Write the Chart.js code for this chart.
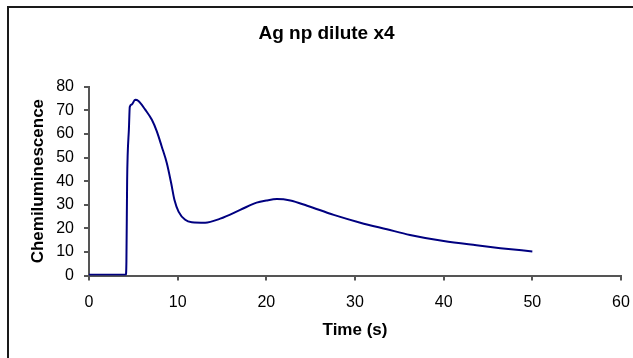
<!DOCTYPE html>
<html>
<head>
<meta charset="utf-8">
<script src="https://cdn.jsdelivr.net/npm/chart.js@4.4.1/dist/chart.umd.min.js"></script>
<style>
  html, body { margin: 0; padding: 0; background: #fff; overflow: hidden; }
  #wrap { position: relative; width: 633px; height: 358px; overflow: hidden; }
  #frame { position: absolute; left: 7px; top: 6px; width: 700px; height: 400px;
           border-top: 2px solid #1a1a1a; border-left: 2px solid #1a1a1a; }
  canvas { position: absolute; left: 0; top: 0; }
</style>
</head>
<body>
<div id="wrap">
  <canvas id="chart" width="633" height="358"></canvas>
  <div id="frame"></div>
</div>
<script>
// time (s) and chemiluminescence
const timeS = [0, 4.15, 4.22, 4.3, 4.36, 4.5, 4.6, 4.83, 5.2, 5.58, 6.34, 7.09, 7.65, 8.2, 8.78,
  9.27, 9.64, 10.1, 10.85, 11.6, 13.1, 14.8, 17.05, 18.9, 20, 21.2, 22.7, 24.6, 27.6,
  30.6, 33.6, 36.2, 40, 43.7, 46.4, 50];
const chemi = [0.3, 0.3, 6, 40, 51, 62, 71.5, 72.5, 74.5, 74, 70.3, 66, 61.1, 54.7, 47.6,
  39.1, 32, 27.1, 23.6, 22.6, 22.4, 24.1, 27.8, 30.9, 31.8, 32.4, 31.8, 29.6, 25.7,
  22.4, 19.6, 17.2, 14.6, 12.8, 11.6, 10.2];

const xTicks = [0, 10, 20, 30, 40, 50, 60];
const yTicks = [0, 10, 20, 30, 40, 50, 60, 70, 80];

const FONT = '"Liberation Sans", Arial, sans-serif';
const axisGrey = '#555555';

new Chart(document.getElementById('chart').getContext('2d'), {
  type: 'scatter',
  data: {
    datasets: [{
      label: 'Ag np dilute x4',
      data: timeS.map((t, i) => ({ x: t, y: chemi[i] })),
      showLine: true,
      borderColor: '#000080',
      borderWidth: 2,
      pointRadius: 0,
      cubicInterpolationMode: 'monotone',
      fill: false
    }]
  },
  options: {
    responsive: false,
    animation: false,
    layout: { padding: { left: 32, right: 12, top: 0, bottom: 0 } },
    plugins: {
      legend: { display: false },
      tooltip: { enabled: false },
      title: {
        display: true,
        text: 'Ag np dilute x4',
        color: '#000',
        font: { family: FONT, size: 19, weight: 'bold' },
        padding: { top: 22, bottom: 42 }
      }
    },
    scales: {
      x: {
        type: 'linear',
        min: 0, max: 60,
        afterBuildTicks: axis => { axis.ticks = xTicks.map(v => ({ value: v })); },
        afterFit: axis => { axis.height = 82.5; axis.paddingRight = 0; axis.paddingLeft = 0; },
        ticks: { color: '#000', font: { family: FONT, size: 16 }, padding: 12 },
        grid: { drawOnChartArea: false, drawTicks: true, tickLength: 5, color: axisGrey, lineWidth: 2 },
        border: { color: axisGrey, width: 2 },
        title: {
          display: true, text: 'Time (s)', color: '#000',
          font: { family: FONT, size: 17, weight: 'bold' },
          padding: { top: 0, bottom: 17 }
        }
      },
      y: {
        min: 0, max: 80,
        afterBuildTicks: axis => { axis.ticks = yTicks.map(v => ({ value: v })); },
        afterFit: axis => { axis.width = 57; },
        ticks: { color: '#000', font: { family: FONT, size: 16 }, padding: 10 },
        grid: { drawOnChartArea: false, drawTicks: true, tickLength: 5, color: axisGrey, lineWidth: 2 },
        border: { color: axisGrey, width: 2 },
        title: {
          display: true, text: 'Chemiluminescence', color: '#000',
          font: { family: FONT, size: 17, weight: 'bold' },
          padding: { top: -4, bottom: 0 }
        }
      }
    }
  }
});
</script>
</body>
</html>
